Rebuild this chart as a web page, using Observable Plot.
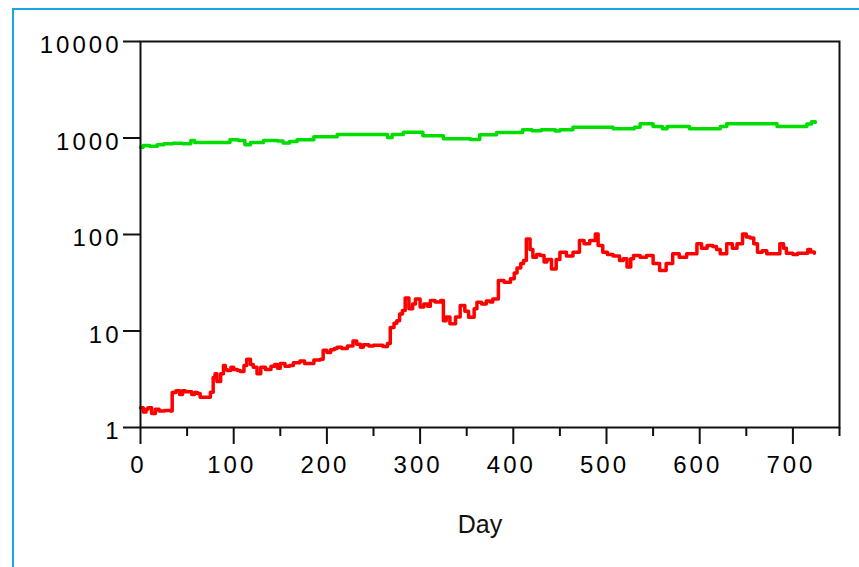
<!DOCTYPE html>
<html>
<head>
<meta charset="utf-8">
<script src="https://cdn.jsdelivr.net/npm/d3@7"></script>
<script src="https://cdn.jsdelivr.net/npm/@observablehq/plot@0.6"></script>
<style>
  html, body { margin: 0; padding: 0; background: #fff; }
  #wrap { position: relative; width: 859px; height: 567px; overflow: hidden; }
  #border { position: absolute; left: 12px; top: 8px; right: -4px; bottom: -4px;
            border-left: 2px solid #1aa6e0; border-top: 2px solid #1aa6e0; pointer-events: none; }
  #chart { position: absolute; left: 0; top: 0; }
  #chart svg { display: block; }
  g[aria-label$="tick label"] text { letter-spacing: 3px; }
</style>
</head>
<body>
<div id="wrap"><div id="chart"></div><div id="border"></div></div>
<script>
const greenDay = [0,3,10,18,25,35,45,54,58,86,96,105,112,118,132,147,153,160,168,182,186,207,211,260,265,270,282,297,303,318,325,346,354,364,378,382,400,410,420,430,445,450,464,504,507,522,530,536,543,550,560,565,586,589,614,622,629,678,683,711,715,720,724];
const greenVal = [800,836,820,850,871,880,871,942,898,898,957,940,850,898,942,930,890,920,957,957,1028,1028,1087,1087,1011,1087,1148,1148,1054,1054,981,981,966,1080,1080,1140,1140,1216,1190,1216,1180,1216,1294,1294,1245,1245,1294,1403,1403,1315,1245,1315,1315,1245,1245,1315,1403,1403,1315,1315,1400,1472,1450];

const redDay = [0,3,6,8,12,16,20,26,32,34,38,42,45,48,55,58,61,64,72,75,78,80,82,86,89,91,93,97,100,104,107,111,114,118,121,125,129,134,140,144,147,150,155,160,164,168,171,176,180,186,193,196,200,204,208,211,216,222,228,232,236,239,245,250,255,260,265,268,272,275,278,281,284,288,292,295,300,304,308,311,316,322,325,328,332,338,343,348,352,358,361,366,371,375,378,384,390,397,401,404,408,411,414,418,421,425,429,433,436,441,446,450,457,464,471,476,482,488,491,496,501,507,514,518,522,526,529,536,543,550,557,564,571,578,586,593,597,602,608,614,618,622,629,635,640,646,650,654,658,662,667,672,678,686,690,693,700,705,711,716,719,723];
const redVal = [1.6,1.45,1.55,1.6,1.4,1.55,1.48,1.5,1.48,2.3,2.4,2.2,2.4,2.35,2.2,2.3,2.25,2.06,2.06,2.32,3.3,3.6,3.0,3.6,4.4,4.0,3.9,4.2,4.0,3.9,3.8,4.4,5.1,4.5,4.2,3.6,4.2,4.0,4.3,4.5,4.1,4.6,4.3,4.4,4.7,4.7,4.9,4.6,4.6,5.0,5.1,6.3,6.0,6.4,6.6,6.8,6.6,7.0,7.9,7.3,6.8,7.2,7.0,7.1,7.1,6.9,7.4,10.9,12.0,12.8,15.0,16.3,22,17,19,21.5,17.7,19,18,20.7,20.0,20.7,12.8,14,11.9,14,18.4,16,13.9,17,19.9,19,20.5,20,21.5,33.4,32,34.8,40,45,50,53.9,90,70,58,62,60.5,52,55,44,55,65.6,60,65.6,86.7,80,86.7,101,77,65.6,62,60,53.9,56,46,56,60.5,58,60.5,50,42.4,50,63,58,63,63,80,72,77,75,70,63,80,72,80,101,94,92,80,65.6,68,63,63,80,72,64,62,64,64,70,66,64];

const xMajorTicks = [0,100,200,300,400,500,600,700];
const xMinorTicks = [50,150,250,350,450,550,650,750];
const yTicks = [1,10,100,1000,10000];
const xLabel = "Day";

const green = greenDay.map((d, i) => ({day: d, value: greenVal[i]}));
const red = redDay.map((d, i) => ({day: d, value: redVal[i]}));

const chart = Plot.plot({
  width: 859,
  height: 567,
  marginLeft: 140,
  marginTop: 41,
  marginRight: 20,
  marginBottom: 140,
  style: {fontFamily: "'Liberation Sans', Arial, sans-serif", fontSize: "24px", color: "#000", background: "transparent"},
  x: {domain: [0, 750], label: null},
  y: {type: "log", domain: [1, 10000], label: null},
  marks: [
    Plot.axisX({ticks: xMinorTicks, tickSize: 9, tickFormat: () => "", strokeWidth: 2, stroke: "#111", label: null}),
    Plot.axisX({ticks: xMajorTicks, tickSize: 17, tickFormat: () => "", strokeWidth: 2, stroke: "#111", label: null}),
    Plot.axisX({ticks: xMajorTicks, tickSize: 0, tickPadding: 28, tickFormat: d => String(d), dx: -2, label: null}),
    Plot.axisY({ticks: yTicks, tickSize: 17, tickFormat: () => "", strokeWidth: 2, stroke: "#111", label: null}),
    Plot.axisY({ticks: yTicks, tickSize: 0, tickPadding: 19, tickFormat: d => String(d), dy: 4, label: null}),
    Plot.line(green, {x: "day", y: "value", stroke: "#00dd00", strokeWidth: 3.5, curve: "step-after"}),
    Plot.line(red, {x: "day", y: "value", stroke: "#ff0000", strokeWidth: 3.5, curve: "step-after"}),
    Plot.frame({stroke: "#111", strokeWidth: 2}),
    Plot.text([xLabel], {frameAnchor: "bottom", dy: 97, dx: -10, fontSize: 25, fill: "#111", lineAnchor: "middle"})
  ]
});
document.getElementById("chart").appendChild(chart);
</script>
</body>
</html>
